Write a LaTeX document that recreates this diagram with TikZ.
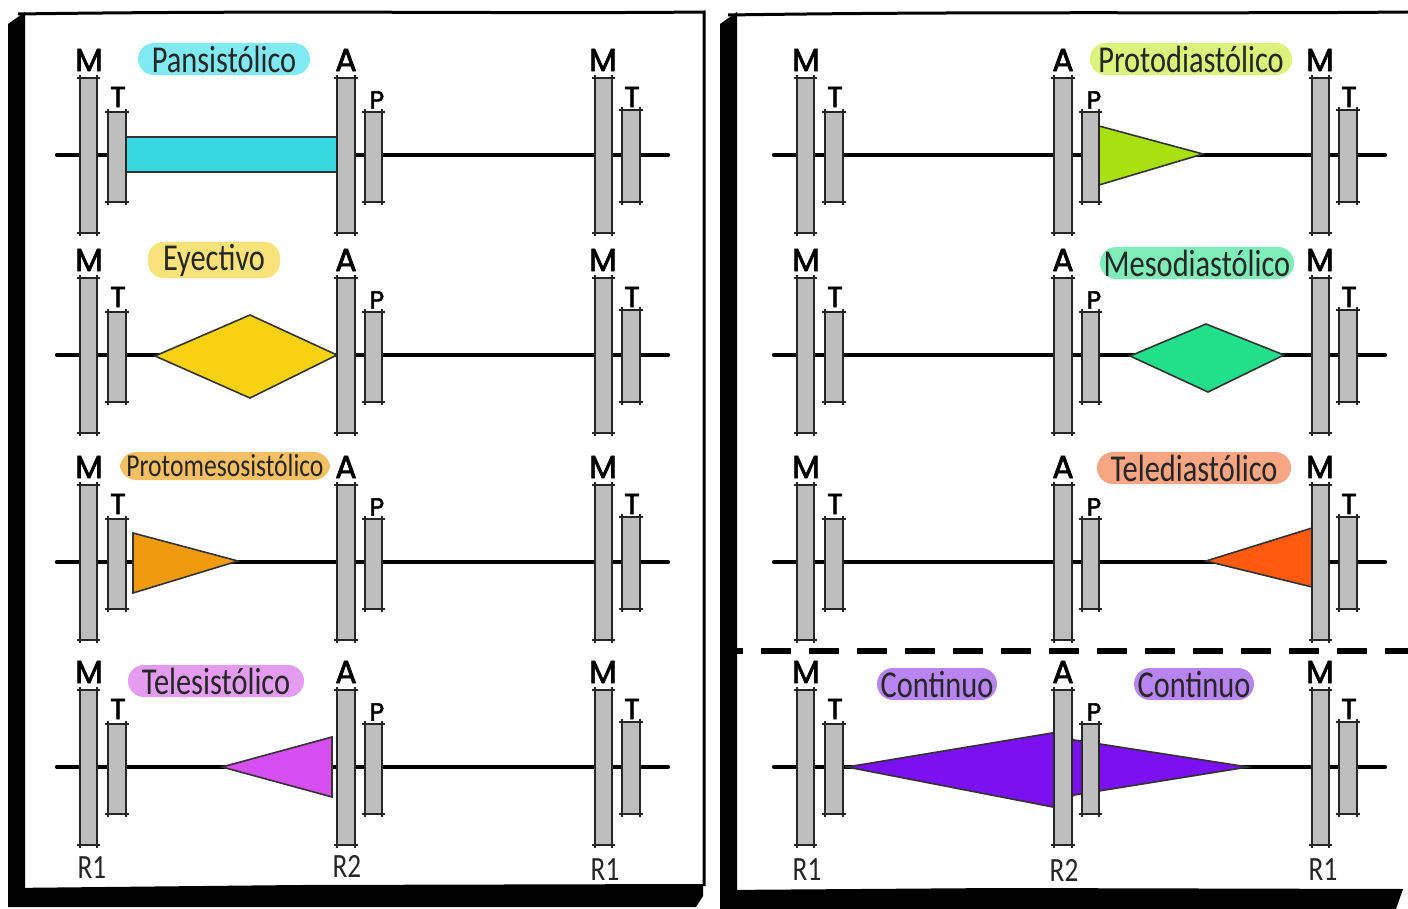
\documentclass[tikz,border=0pt]{standalone}
\usepackage{fontspec}
\newfontfamily\labfont{Poppins}[FakeBold=2.2]
\newfontfamily\handfont{Carlito}[FakeStretch=0.8]
\definecolor{barg}{RGB}{190,190,190}
\definecolor{cyanL}{RGB}{128,234,242}
\definecolor{cyanD}{RGB}{56,216,224}
\definecolor{yelL}{RGB}{248,226,122}
\definecolor{yelD}{RGB}{248,210,16}
\definecolor{oraL}{RGB}{245,192,99}
\definecolor{oraD}{RGB}{240,154,16}
\definecolor{vioL}{RGB}{228,156,240}
\definecolor{vioD}{RGB}{214,78,240}
\definecolor{limL}{RGB}{221,242,122}
\definecolor{limD}{RGB}{168,224,16}
\definecolor{grnL}{RGB}{127,237,184}
\definecolor{grnD}{RGB}{34,224,138}
\definecolor{redL}{RGB}{247,165,131}
\definecolor{redD}{RGB}{255,90,16}
\definecolor{purL}{RGB}{183,132,240}
\definecolor{purD}{RGB}{123,16,240}
\tikzset{
  barline/.style={line width=1pt, black!85},
  baseln/.style={line width=2.1pt, black, line cap=round},
  shapeline/.style={line width=0.8pt, black!80},
  biglab/.style={font=\labfont\fontsize{16}{16}\selectfont, inner sep=0pt},
  smlab/.style={font=\labfont\fontsize{14.5}{14.5}\selectfont, inner sep=0pt},
  plab/.style={font=\labfont\fontsize{12.5}{12.5}\selectfont, inner sep=0pt},
  pill/.style={rounded corners=8pt, minimum height=16pt, inner sep=1pt,
     font=\handfont\fontsize{19}{19}\selectfont, text=black!85},
  rlab/.style={font=\handfont\fontsize{17}{17}\selectfont, inner sep=0pt, text=black!85},
  dashln/.style={line width=2.8pt, black, dash pattern=on 15pt off 9pt, dash phase=12pt},
  border/.style={fill=black}
}
\newcommand{\vbarx}[4]{%
  \fill[barg] (#1,#2) rectangle (#3,#4);
  \draw[barline] (#1,#2-3) -- (#1,#4+3) (#3,#2-3) -- (#3,#4+3)
     (#1-3,#2) -- (#3+3,#2) (#1-3,#4) -- (#3+3,#4);
}
\newcommand{\rowline}[2]{%
  \draw[baseln] (57+#1,#2) -- (668+#1,#2);
}
\newcommand{\rowbars}[3]{%
  \vbarx{80+#2}{#3-77}{97+#2}{#3+78}
  \vbarx{108+#2}{#3-43}{126+#2}{#3+47}
  \vbarx{337+#2}{#3-77}{355+#2}{#3+78}
  \vbarx{365+#2}{#3-43}{382+#2}{#3+47}
  \vbarx{595+#2}{#3-77}{612+#2}{#3+78}
  \vbarx{622+#2}{#3-45}{640+#2}{#3+47}
  \node[biglab] (#1M1) at (89+#2,#3-95) {M};
  \node[smlab] (#1T1) at (118+#2,#3-58) {T};
  \node[biglab] (#1A) at (346+#2,#3-95) {A};
  \node[plab] (#1P) at (377+#2,#3-55) {P};
  \node[biglab] (#1M2) at (603+#2,#3-95) {M};
  \node[smlab] (#1T2) at (632+#2,#3-58) {T};
}
\begin{document}
\begin{tikzpicture}[x=0.5pt,y=-0.5pt]
\useasboundingbox (0,0) rectangle (1408,909);
\fill[white] (0,0) rectangle (1408,909);

% ---------- panel borders ----------
\draw[line width=1.5pt] (18,14) .. controls (300,10) and (500,14) .. (704,12) -- (704,886);
\fill[border] (8,24) -- (25,12) -- (25,896) -- (8,906) -- cycle;
\fill[border] (8,888) -- (300,885) -- (703,884) -- (703,896) -- (696,907) -- (8,907) -- cycle;
\draw[line width=1.5pt] (728,15) .. controls (1000,11) and (1200,14) .. (1408,12);
\fill[border] (720,24) -- (737,12) -- (737,896) -- (720,909) -- cycle;
\fill[border] (720,890) -- (1000,888) -- (1403,889) -- (1396,909) -- (720,909) -- cycle;

% ---------- left panel ----------
% row 1
\rowline{0}{155}
\filldraw[shapeline, fill=cyanD] (126,137) rectangle (337,172);
\rowbars{La}{0}{155}
\node[pill, fill=cyanL, minimum width=86pt] (pLa) at (224,59) {Pansistólico};
% row 2
\rowline{0}{355}
\filldraw[shapeline, fill=yelD] (155,356) -- (250,315) -- (337,355) -- (250,398) -- cycle;
\rowbars{Lb}{0}{355}
\node[pill, fill=yelL, minimum width=66pt] (pLb) at (214,260) {Eyectivo};
% row 3
\rowline{0}{562}
\filldraw[shapeline, fill=oraD] (133,533) -- (238,561) -- (133,593) -- cycle;
\rowbars{Lc}{0}{562}
\node[pill, fill=oraL, minimum width=105pt, minimum height=14pt, font=\handfont\fontsize{16}{16}\selectfont] (pLc) at (225,466) {Protomesosistólico};
% row 4
\rowline{0}{767}
\filldraw[shapeline, fill=vioD] (222,767) -- (332,737) -- (332,797) -- cycle;
\rowbars{Ld}{0}{767}
\node[pill, fill=vioL, minimum width=88pt] (pLd) at (216,681) {Telesistólico};
\node[rlab] (rLa) at (92,868) {R1};
\node[rlab] (rLb) at (347,866) {R2};
\node[rlab] (rLc) at (605,870) {R1};

% ---------- right panel ----------
% row 1
\rowline{717}{155}
\filldraw[shapeline, fill=limD] (1099,126) -- (1203,154) -- (1099,185) -- cycle;
\rowbars{Ra}{717}{155}
\node[pill, fill=limL, minimum width=101pt] (pRa) at (1191,59) {Protodiastólico};
% row 2
\rowline{717}{355}
\filldraw[shapeline, fill=grnD] (1130,356) -- (1206,324) -- (1284,355) -- (1208,392) -- cycle;
\rowbars{Rb}{717}{355}
\node[pill, fill=grnL, minimum width=97pt] (pRb) at (1197,263) {Mesodiastólico};
% row 3
\rowline{717}{562}
\filldraw[shapeline, fill=redD] (1206,561) -- (1312,528) -- (1312,587) -- cycle;
\rowbars{Rc}{717}{562}
\node[pill, fill=redL, minimum width=97pt] (pRc) at (1194,468) {Telediastólico};
% dashed separator
\coordinate (dashA) at (737,651);
\coordinate (dashB) at (1440,651);
\draw[dashln] (dashA) -- (dashB);
% row 4
\rowline{717}{767}
\filldraw[shapeline, fill=purD] (847,767) -- (1058,732) -- (1074,740) -- (1248,767) -- (1074,795) -- (1058,808) -- cycle;
\rowbars{Rd}{717}{767}
\node[pill, fill=purL, minimum width=60pt] (pRd1) at (937,684) {Continuo};
\node[pill, fill=purL, minimum width=60pt] (pRd2) at (1194,684) {Continuo};
\node[rlab] (rRa) at (807,870) {R1};
\node[rlab] (rRb) at (1064,870) {R2};
\node[rlab] (rRc) at (1323,870) {R1};
\end{tikzpicture}
\end{document}
